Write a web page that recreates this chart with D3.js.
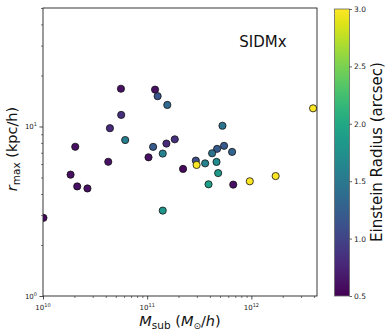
<!DOCTYPE html>
<html>
<head>
<meta charset="utf-8">
<script src="https://cdn.jsdelivr.net/npm/d3@7"></script>
<style>
  body { margin: 0; background: #fff; }
  svg { display: block; font-family: "DejaVu Sans", sans-serif; }
</style>
</head>
<body>
<svg id="chart" width="390" height="334"></svg>
<script>
// Subhalo mass (Msun/h)
const msub = [5.6e10, 1.19e11, 1.26e11, 1.56e11, 5.63e10, 4.39e10, 6.15e10, 2.04e10, 1.53e11, 1.14e11,
              1.41e11, 1.03e11, 4.23e10, 1.84e10, 2.13e10, 2.67e10, 1.41e11, 1.01e10, 5.28e11, 1.84e11,
              5.47e11, 4.69e11, 4.20e11, 6.53e11, 2.93e11, 2.98e11, 3.60e11, 4.63e11, 2.21e11, 4.80e11,
              3.88e11, 6.70e11, 9.66e11, 1.71e12, 3.91e12];
// r_max (kpc/h)
const rmax = [16.7, 16.5, 15.1, 13.4, 11.7, 9.77, 8.32, 7.59, 7.93, 7.58,
              6.92, 6.58, 6.19, 5.20, 4.43, 4.31, 3.19, 2.89, 10.1, 8.40,
              7.69, 7.38, 6.95, 7.08, 6.29, 5.93, 6.06, 6.18, 5.62, 5.31,
              4.56, 4.54, 4.75, 5.10, 12.8];
// Einstein radius (arcsec)
const einstein = [0.6, 0.6, 1.15, 1.35, 0.85, 0.8, 1.55, 0.6, 0.8, 1.2,
                  1.6, 0.6, 0.6, 0.6, 0.6, 0.6, 1.8, 0.55, 1.45, 0.85,
                  1.2, 1.2, 1.45, 1.3, 1.1, 3.0, 1.6, 1.7, 0.55, 1.85,
                  1.9, 0.6, 3.0, 3.0, 3.0];
const xTickExps = [10, 11, 12];
const yTickExps = [0, 1];
const cbarTicks = [0.5, 1.0, 1.5, 2.0, 2.5, 3.0];
const panelLabel = "SIDMx";

const svg = d3.select("#chart");
const L = 43, R = 317, T = 8, B = 296;
const x = d3.scaleLog().domain([1e10, Math.pow(10, 12.63)]).range([L, R]);
const y = d3.scaleLog().domain([1, 50]).range([B, T]);
const cScale = d3.scaleSequential(d3.interpolateViridis).domain([0.5, 3.0]);

// clip
svg.append("defs").append("clipPath").attr("id", "clip")
  .append("rect").attr("x", L).attr("y", T).attr("width", R - L).attr("height", B - T);

// points
svg.append("g").attr("clip-path", "url(#clip)")
  .selectAll("circle").data(msub.map((m, i) => ({m, r: rmax[i], c: einstein[i]})))
  .join("circle")
  .attr("cx", d => x(d.m)).attr("cy", d => y(d.r)).attr("r", 3.6)
  .attr("fill", d => cScale(d.c)).attr("stroke", "#111").attr("stroke-width", 0.8);

// frame
svg.append("rect").attr("x", L).attr("y", T).attr("width", R - L).attr("height", B - T)
  .attr("fill", "none").attr("stroke", "#222").attr("stroke-width", 0.9);

// ticks
const tickColor = "#222";
const xMinor = [], yMinor = [];
for (let e = 10; e <= 12; e++) for (let k = 2; k <= 9; k++) { const v = k * Math.pow(10, e); if (v <= x.domain()[1]) xMinor.push(v); }
for (let e = 0; e <= 1; e++) for (let k = 2; k <= 9; k++) { const v = k * Math.pow(10, e); if (v <= 50) yMinor.push(v); }

const xAxis = d3.axisBottom(x).tickValues(xTickExps.map(e => Math.pow(10, e))).tickSize(3.5).tickFormat("");
const gx = svg.append("g").attr("transform", `translate(0,${B})`).call(xAxis);
gx.select(".domain").remove();
gx.selectAll("line").attr("stroke", tickColor).attr("stroke-width", 0.8);
const gxm = svg.append("g").attr("transform", `translate(0,${B})`)
  .call(d3.axisBottom(x).tickValues(xMinor).tickSize(2).tickFormat(""));
gxm.select(".domain").remove();
gxm.selectAll("line").attr("stroke", tickColor).attr("stroke-width", 0.6);

const yAxis = d3.axisLeft(y).tickValues(yTickExps.map(e => Math.pow(10, e))).tickSize(3.5).tickFormat("");
const gy = svg.append("g").attr("transform", `translate(${L},0)`).call(yAxis);
gy.select(".domain").remove();
gy.selectAll("line").attr("stroke", tickColor).attr("stroke-width", 0.8);
const gym = svg.append("g").attr("transform", `translate(${L},0)`)
  .call(d3.axisLeft(y).tickValues(yMinor).tickSize(2).tickFormat(""));
gym.select(".domain").remove();
gym.selectAll("line").attr("stroke", tickColor).attr("stroke-width", 0.6);

// tick labels
xTickExps.forEach(e => {
  const t = svg.append("text").attr("x", x(Math.pow(10, e))).attr("y", B + 14)
    .attr("text-anchor", "middle").attr("font-size", 7).attr("fill", "#222");
  t.append("tspan").text("10");
  t.append("tspan").attr("dy", -3).attr("font-size", 5).text(e);
});
yTickExps.forEach(e => {
  const t = svg.append("text").attr("x", L - 6).attr("y", y(Math.pow(10, e)) + 2.5)
    .attr("text-anchor", "end").attr("font-size", 7).attr("fill", "#222");
  t.append("tspan").text("10");
  t.append("tspan").attr("dy", -3).attr("font-size", 5).text(e);
});

// axis labels
const xl = svg.append("text").attr("x", (L + R) / 2).attr("y", 326)
  .attr("text-anchor", "middle").attr("font-size", 14.5).attr("fill", "#111");
xl.append("tspan").attr("font-style", "italic").text("M");
xl.append("tspan").attr("font-size", 10.5).attr("dy", 3).text("sub");
xl.append("tspan").attr("dy", -3).text(" (");
xl.append("tspan").attr("font-style", "italic").text("M");
xl.append("tspan").attr("font-size", 9).attr("dy", 3).text("\u2299");
xl.append("tspan").attr("dy", -3).text("/");
xl.append("tspan").attr("font-style", "italic").text("h");
xl.append("tspan").text(")");

const yl = svg.append("text").attr("transform", `translate(17,${(T + B) / 2 - 3}) rotate(-90)`)
  .attr("text-anchor", "middle").attr("font-size", 14.5).attr("fill", "#111");
yl.append("tspan").attr("font-style", "italic").text("r");
yl.append("tspan").attr("font-size", 10.5).attr("dy", 3).text("max");
yl.append("tspan").attr("dy", -3).text(" (kpc/h)");

// panel label
svg.append("text").attr("x", 263).attr("y", 47).attr("text-anchor", "middle")
  .attr("font-size", 15).attr("fill", "#111").text(panelLabel);

// colorbar
const cbX = 334.5, cbW = 15;
const cb = d3.scaleLinear().domain([0.5, 3.0]).range([B, T + 1]);
const grad = svg.select("defs").append("linearGradient").attr("id", "vir")
  .attr("x1", 0).attr("y1", 1).attr("x2", 0).attr("y2", 0);
d3.range(0, 1.0001, 0.05).forEach(t => {
  grad.append("stop").attr("offset", t).attr("stop-color", d3.interpolateViridis(t));
});
svg.append("rect").attr("x", cbX).attr("y", cb(3.0)).attr("width", cbW).attr("height", B - cb(3.0))
  .attr("fill", "url(#vir)").attr("stroke", "#666").attr("stroke-width", 0.8);
const gc = svg.append("g").attr("transform", `translate(${cbX + cbW},0)`)
  .call(d3.axisRight(cb).tickValues(cbarTicks).tickSize(2.5).tickPadding(2).tickFormat(d3.format(".1f")));
gc.select(".domain").remove();
gc.selectAll("line").attr("stroke", "#222").attr("stroke-width", 0.7);
gc.selectAll("text").attr("font-size", 7.5).attr("fill", "#222").attr("font-family", "DejaVu Sans");

svg.append("text").attr("transform", `translate(381.5,${(T + B) / 2}) rotate(-90)`)
  .attr("text-anchor", "middle").attr("font-size", 15).attr("fill", "#111")
  .text("Einstein Radius (arcsec)");
</script>
</body>
</html>
